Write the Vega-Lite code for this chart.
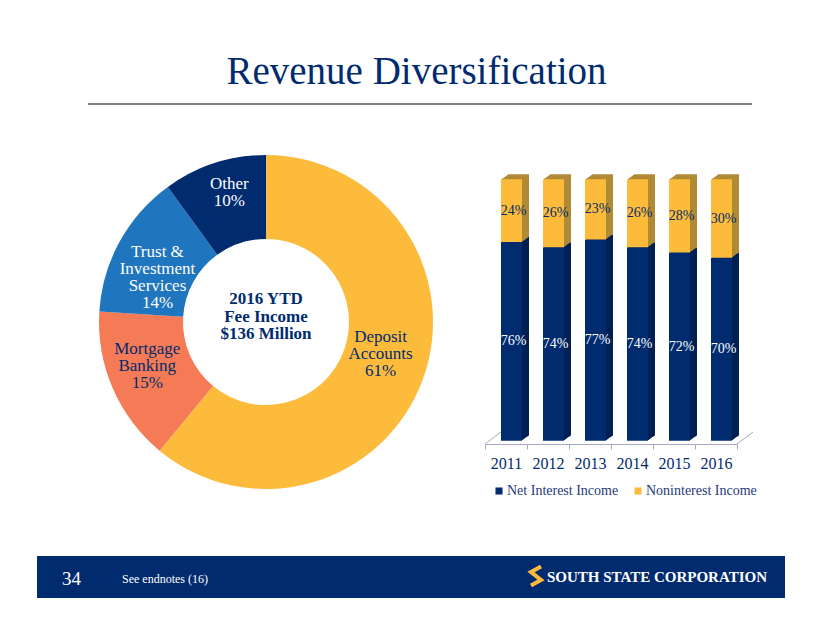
{"$schema":"https://vega.github.io/schema/vega-lite/v6.json","width":822,"height":635,"padding":0,"autosize":{"type":"fit","contains":"padding"},"background":"#ffffff","config":{"view":{"stroke":null}},
"datasets":{
"bars":[
{"year":"2011","series":"Net Interest Income","share":76,"rank":1,"label":"76%"},{"year":"2012","series":"Net Interest Income","share":74,"rank":1,"label":"74%"},{"year":"2013","series":"Net Interest Income","share":77,"rank":1,"label":"77%"},{"year":"2014","series":"Net Interest Income","share":74,"rank":1,"label":"74%"},{"year":"2015","series":"Net Interest Income","share":72,"rank":1,"label":"72%"},{"year":"2016","series":"Net Interest Income","share":70,"rank":1,"label":"70%"},
{"year":"2011","series":"Noninterest Income","share":24,"rank":2,"label":"24%"},{"year":"2012","series":"Noninterest Income","share":26,"rank":2,"label":"26%"},{"year":"2013","series":"Noninterest Income","share":23,"rank":2,"label":"23%"},{"year":"2014","series":"Noninterest Income","share":26,"rank":2,"label":"26%"},{"year":"2015","series":"Noninterest Income","share":28,"rank":2,"label":"28%"},{"year":"2016","series":"Noninterest Income","share":30,"rank":2,"label":"30%"}],
"pie":[
{"category":"Deposit Accounts","share":61,"rank":1,"label":"Deposit\nAccounts\n61%"},
{"category":"Mortgage Banking","share":15,"rank":2,"label":"Mortgage\nBanking\n15%"},
{"category":"Trust & Investment Services","share":14,"rank":3,"label":"Trust &\nInvestment\nServices\n14%"},
{"category":"Other","share":10,"rank":4,"label":"Other\n10%"}]},
"resolve":{"scale":{"x":"independent","y":"independent","color":"independent","theta":"independent"},"axis":{"x":"independent"}},
"layer":[
{"data":{"values":[{"t":"Revenue Diversification"}]},"mark":{"type":"text","font":"Liberation Serif","fontSize":39,"align":"center","baseline":"middle","fill":"#012B6F"},"encoding":{"text":{"field":"t"},"x":{"value":416.5},"y":{"value":72}}},
{"data":{"values":[{}]},"mark":{"type":"rule","stroke":"#808080","strokeWidth":2},"encoding":{"x":{"value":88},"x2":{"value":752},"y":{"value":104},"y2":{"value":104}}},
{"data":{"name":"pie"},"layer":[
{"mark":{"type":"arc","radius":167,"radius2":83},"encoding":{"x":{"value":266},"y":{"value":322},"theta":{"field":"share","type":"quantitative","stack":true,"scale":{"domain":[0,100]}},"order":{"field":"rank"},"color":{"field":"category","type":"nominal","legend":null,"scale":{"domain":["Deposit Accounts","Mortgage Banking","Trust & Investment Services","Other"],"range":["#FDBB3B","#F47B55","#1F75BE","#012B6F"]}}}},
{"mark":{"type":"text","font":"Liberation Serif","fontSize":17,"lineHeight":17,"lineBreak":"\n","align":"center","baseline":"middle","dx":{"expr":"datum.rank==1?-3:datum.rank==2?-4:datum.rank==3?1:2"},"dy":{"expr":"datum.rank==1?-27:datum.rank==2?-23:datum.rank==3?-10:-19"}},"encoding":{"x":{"value":266},"y":{"value":322},"radius":{"value":125},"theta":{"field":"share","type":"quantitative","stack":true,"scale":{"domain":[0,100]}},"order":{"field":"rank"},"detail":{"field":"category"},"text":{"field":"label"},"fill":{"condition":{"test":"datum.rank>=3","value":"#ffffff"},"value":"#012B6F"}}}]},
{"data":{"values":[{"t":"2016 YTD\nFee Income\n$136 Million"}]},"mark":{"type":"text","font":"Liberation Serif","fontWeight":"bold","fontSize":17,"lineHeight":17.5,"lineBreak":"\n","align":"center","baseline":"middle","fill":"#012B6F"},"encoding":{"text":{"field":"t"},"x":{"value":266},"y":{"value":299}}},
{"data":{"values":[{}]},"mark":{"type":"rule","stroke":"#A9A9C6","strokeWidth":1},"encoding":{"x":{"value":485},"x2":{"value":501},"y":{"value":444},"y2":{"value":432}}},
{"data":{"values":[{}]},"mark":{"type":"rule","stroke":"#A9A9C6","strokeWidth":1},"encoding":{"x":{"value":737},"x2":{"value":753},"y":{"value":444},"y2":{"value":432}}},
{"data":{"name":"bars"},"mark":{"type":"tick","opacity":0},"encoding":{"x":{"field":"year","type":"nominal","scale":{"type":"band","range":[485,737],"padding":0},"axis":{"orient":"bottom","offset":-191,"title":null,"labelAngle":0,"tickBand":"extent","domainColor":"#A9A9C6","tickColor":"#A9A9C6","tickSize":5,"labelFont":"Liberation Serif","labelFontSize":16,"labelColor":"#012B6F","labelPadding":6}}}},
{"data":{"name":"bars"},"encoding":{"x":{"field":"year","type":"nominal","axis":null,"scale":{"type":"band","range":[490.5,742.5],"paddingInner":0.5,"paddingOuter":0.25}},"y":{"field":"share","type":"quantitative","stack":"zero","axis":null,"scale":{"domain":[0,100],"range":[440.7,179.3]}},"order":{"field":"rank"}},
"layer":[
{"mark":{"type":"bar","xOffset":7,"yOffset":-5},"encoding":{"fill":{"condition":{"test":"datum.rank==1","value":"#001F52"},"value":"#B08A34"}}},
{"mark":{"type":"bar","xOffset":6,"yOffset":-4.3},"encoding":{"fill":{"condition":{"test":"datum.rank==1","value":"#001F52"},"value":"#B08A34"}}},
{"mark":{"type":"bar","xOffset":5,"yOffset":-3.6},"encoding":{"fill":{"condition":{"test":"datum.rank==1","value":"#001F52"},"value":"#B08A34"}}},
{"mark":{"type":"bar","xOffset":4,"yOffset":-2.9},"encoding":{"fill":{"condition":{"test":"datum.rank==1","value":"#001F52"},"value":"#B08A34"}}},
{"mark":{"type":"bar","xOffset":3,"yOffset":-2.1},"encoding":{"fill":{"condition":{"test":"datum.rank==1","value":"#001F52"},"value":"#B08A34"}}},
{"mark":{"type":"bar","xOffset":2,"yOffset":-1.4},"encoding":{"fill":{"condition":{"test":"datum.rank==1","value":"#001F52"},"value":"#B08A34"}}},
{"mark":{"type":"bar","xOffset":1,"yOffset":-0.7},"encoding":{"fill":{"condition":{"test":"datum.rank==1","value":"#001F52"},"value":"#B08A34"}}},
{"mark":{"type":"bar"},"encoding":{"color":{"field":"series","type":"nominal","scale":{"domain":["Net Interest Income","Noninterest Income"],"range":["#012B6F","#FDBB3B"]},"legend":{"orient":"none","legendX":492,"legendY":484,"direction":"horizontal","columns":2,"title":null,"symbolType":"square","symbolSize":50,"symbolStrokeWidth":0,"labelFont":"Liberation Serif","labelFontSize":14,"labelColor":"#1F3A7A","columnPadding":12,"labelOffset":1}}}},
{"mark":{"type":"text","font":"Liberation Serif","fontSize":14,"align":"center","baseline":"middle","dx":2},"encoding":{"y":{"field":"share","type":"quantitative","stack":"zero","bandPosition":0.5,"axis":null,"scale":{"domain":[0,100],"range":[440.7,179.3]}},"text":{"field":"label"},"detail":{"field":"series"},"fill":{"condition":{"test":"datum.rank==1","value":"#ffffff"},"value":"#012B6F"}}}
]},
{"data":{"values":[{}]},"mark":{"type":"rect","fill":"#012B6F"},"encoding":{"x":{"value":37},"x2":{"value":785},"y":{"value":556},"y2":{"value":598}}},
{"data":{"values":[{"t":"34"}]},"mark":{"type":"text","font":"Liberation Serif","fontSize":19,"align":"left","baseline":"middle","fill":"#ffffff"},"encoding":{"text":{"field":"t"},"x":{"value":62},"y":{"value":579}}},
{"data":{"values":[{"t":"See endnotes (16)"}]},"mark":{"type":"text","font":"Liberation Serif","fontSize":12,"align":"left","baseline":"middle","fill":"#ffffff"},"encoding":{"text":{"field":"t"},"x":{"value":122},"y":{"value":579}}},
{"data":{"values":[{"t":"SOUTH STATE CORPORATION"}]},"mark":{"type":"text","font":"Liberation Serif","fontWeight":"bold","fontSize":15,"align":"right","baseline":"middle","fill":"#ffffff"},"encoding":{"text":{"field":"t"},"x":{"value":767},"y":{"value":577}}},
{"data":{"values":[{}]},"mark":{"type":"point","filled":false,"opacity":1,"shape":"M0.45,-0.85 L-0.45,-0.35 L0.45,0.35 L-0.45,0.85","stroke":"#FDBB3B","strokeWidth":4,"size":500},"encoding":{"x":{"value":536},"y":{"value":576}}}
]}
